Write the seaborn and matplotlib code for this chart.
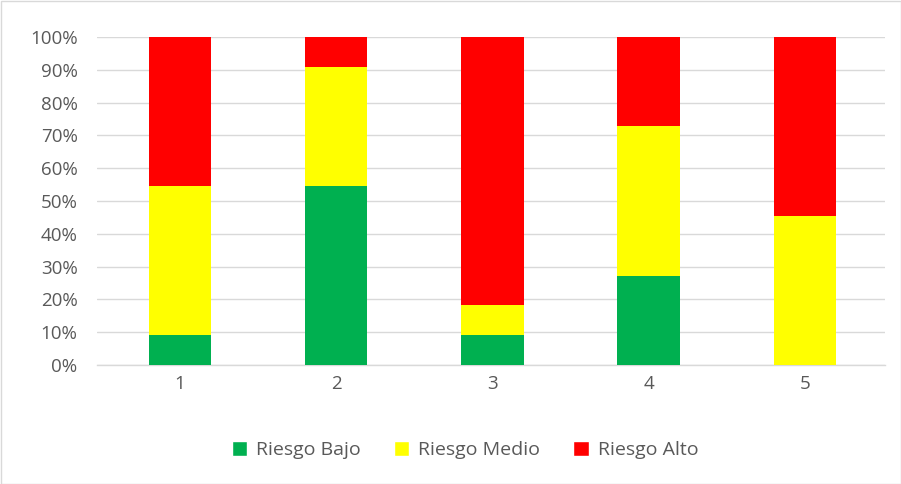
import matplotlib
matplotlib.use("Agg")
import matplotlib.pyplot as plt
import seaborn as sns
import pandas as pd
import numpy as np
from matplotlib.patches import Patch, Rectangle

categories = ["1", "2", "3", "4", "5"]
bajo = [9.09, 54.55, 9.09, 27.27, 0.0]
medio = [45.45, 36.36, 9.09, 45.45, 45.45]
alto = [45.45, 9.09, 81.82, 27.27, 54.55]
series_names = ["Riesgo Bajo", "Riesgo Medio", "Riesgo Alto"]
colors = ["#00B050", "#FFFF00", "#FF0000"]
yticks = list(range(0, 101, 10))

sns.set_theme(style="white")
plt.rcParams['font.family'] = ['Open Sans', 'DejaVu Sans']

fig = plt.figure(figsize=(9.01, 4.84), dpi=100)
ax = fig.add_axes([97/901, 1-365/484, (885-97)/901, (365-37)/484])

df = pd.DataFrame({"cat": categories, "bajo": bajo, "medio": medio, "alto": alto})
bottom = np.zeros(len(categories))
for col, name, c in zip(["bajo", "medio", "alto"], series_names, colors):
    sns.barplot(data=df, x="cat", y=col, color=c, bottom=bottom, width=0.4,
                ax=ax, saturation=1, zorder=3, linewidth=0)
    bottom = bottom + df[col].values

ax.set_ylim(0, 100)
ax.set_xlim(-0.531, 4.512)
ax.set_yticks(yticks)
ax.set_yticklabels([f"{v}%" for v in yticks])
ax.yaxis.grid(True, color="#D9D9D9", linewidth=1, zorder=0)
ax.set_axisbelow(True)
for s in ["left", "right", "top"]:
    ax.spines[s].set_visible(False)
ax.spines["bottom"].set_color("#D9D9D9")
ax.spines["bottom"].set_linewidth(1)
ax.tick_params(axis="both", length=0, labelsize=13.5, labelcolor="#595959", pad=7)
ax.tick_params(axis="y", pad=14)
ax.set_xlabel("")
ax.set_ylabel("")

handles = [Patch(facecolor=c, label=n) for n, c in zip(series_names, colors)]
leg = fig.legend(handles=handles, loc="center", bbox_to_anchor=(465/901, 1-450/484),
                 ncol=3, frameon=False, fontsize=14, handlelength=0.8, handleheight=0.8,
                 handletextpad=0.45, columnspacing=1.7)
for t in leg.get_texts():
    t.set_color("#595959")

fig.patches.append(Rectangle((0.5/901, 0.5/484), 1-1/901, 1-1/484, transform=fig.transFigure,
                             fill=False, edgecolor="#D9D9D9", linewidth=1))

fig.savefig("out.png", dpi=100)
